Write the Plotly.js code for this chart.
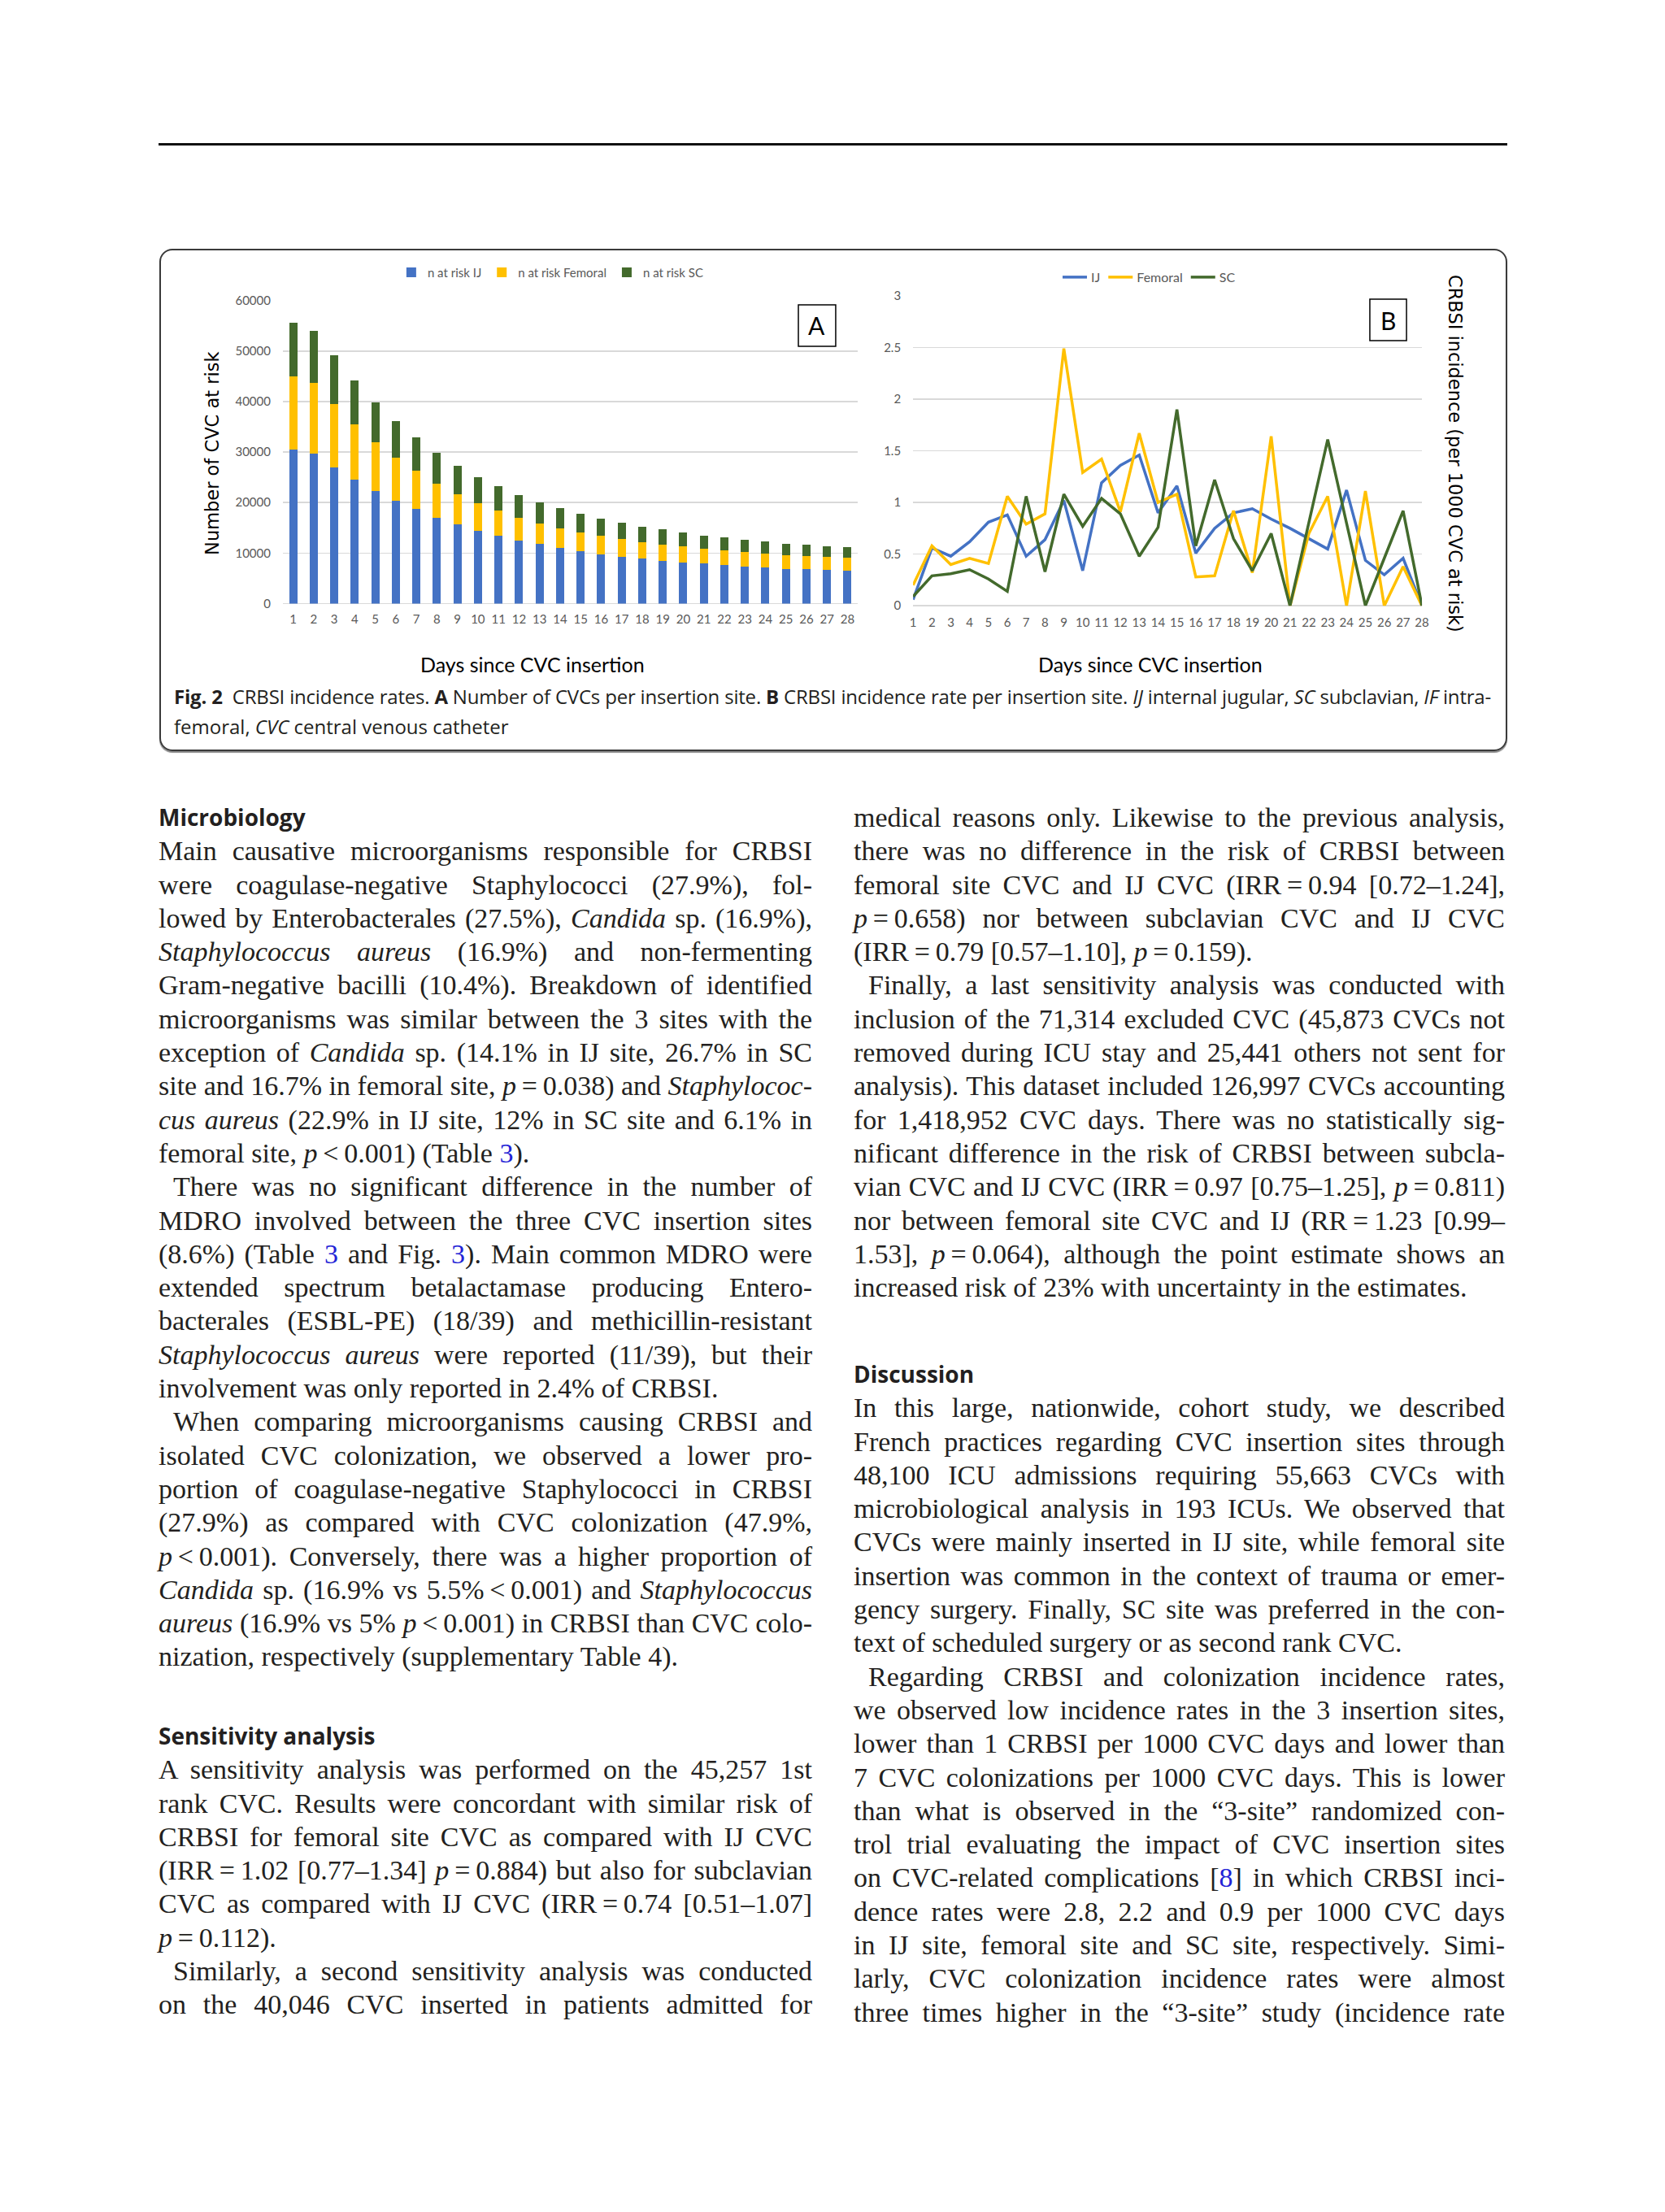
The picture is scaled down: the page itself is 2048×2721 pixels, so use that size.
<!DOCTYPE html>
<html>
<head>
<meta charset="utf-8">
<script src="https://cdn.plot.ly/plotly-3.0.1.min.js"></script>
<style>
  html, body { margin: 0; padding: 0; background: #fff; }
  body { width: 2048px; height: 2721px; position: relative; overflow: hidden; color: #231f20; }
  .rule { position: absolute; left: 195px; top: 176px; width: 1659px; height: 3px; background: #111; }
  .figbox { position: absolute; left: 196px; top: 306px; width: 1654px; height: 614px;
            border: 2px solid #3a3a3a; border-radius: 16px; box-shadow: 0 2px 1px #888; }
  #chart { position: absolute; left: 196px; top: 306px; width: 1652px; height: 530px; }
  .caption { position: absolute; left: 214px; top: 838px; width: 1620px;
             font-family: "Open Sans", "Noto Sans", sans-serif; font-size: 24px; line-height: 37px; }
  .col { position: absolute; font-family: "Liberation Serif", "DejaVu Serif", serif;
         font-size: 34px; line-height: 41.3px; }
  .ln { white-space: nowrap; overflow: visible; }
  .ind { padding-left: 18px; }
  h3 { margin: 0; font-family: "Open Sans", "Noto Sans", sans-serif; font-weight: 700;
       font-size: 28px; line-height: 41.3px; }
  .ref { color: #2323d6; }
</style>
</head>
<body>
<div class="rule"></div>
<div class="figbox"></div>
<div id="chart"></div>

<div class="caption">
  <div class="ln j"><span><b>Fig. 2</b>&nbsp; CRBSI incidence rates. <b>A</b> Number of CVCs per insertion site. <b>B</b> CRBSI incidence rate per insertion site. <i>IJ</i> internal jugular, <i>SC</i> subclavian, <i>IF</i> intra-</span></div>
  <div class="ln"><span>femoral, <i>CVC</i> central venous catheter</span></div>
</div>

<div class="col" style="left:195px; top:985px; width:804px;">
  <h3>Microbiology</h3>
  <div class="ln j"><span>Main causative microorganisms responsible for CRBSI</span></div>
  <div class="ln j"><span>were coagulase-negative Staphylococci (27.9%), fol-</span></div>
  <div class="ln j"><span>lowed by Enterobacterales (27.5%), <i>Candida</i> sp. (16.9%),</span></div>
  <div class="ln j"><span><i>Staphylococcus aureus</i> (16.9%) and non-fermenting</span></div>
  <div class="ln j"><span>Gram-negative bacilli (10.4%). Breakdown of identified</span></div>
  <div class="ln j"><span>microorganisms was similar between the 3 sites with the</span></div>
  <div class="ln j"><span>exception of <i>Candida</i> sp. (14.1% in IJ site, 26.7% in SC</span></div>
  <div class="ln j"><span>site and 16.7% in femoral site, <i>p</i>&thinsp;=&thinsp;0.038) and <i>Staphylococ-</i></span></div>
  <div class="ln j"><span><i>cus aureus</i> (22.9% in IJ site, 12% in SC site and 6.1% in</span></div>
  <div class="ln"><span>femoral site, <i>p</i>&thinsp;&lt;&thinsp;0.001) (Table <span class="ref">3</span>).</span></div>
  <div class="ln j ind"><span>There was no significant difference in the number of</span></div>
  <div class="ln j"><span>MDRO involved between the three CVC insertion sites</span></div>
  <div class="ln j"><span>(8.6%) (Table <span class="ref">3</span> and Fig. <span class="ref">3</span>). Main common MDRO were</span></div>
  <div class="ln j"><span>extended spectrum betalactamase producing Entero-</span></div>
  <div class="ln j"><span>bacterales (ESBL-PE) (18/39) and methicillin-resistant</span></div>
  <div class="ln j"><span><i>Staphylococcus aureus</i> were reported (11/39), but their</span></div>
  <div class="ln"><span>involvement was only reported in 2.4% of CRBSI.</span></div>
  <div class="ln j ind"><span>When comparing microorganisms causing CRBSI and</span></div>
  <div class="ln j"><span>isolated CVC colonization, we observed a lower pro-</span></div>
  <div class="ln j"><span>portion of coagulase-negative Staphylococci in CRBSI</span></div>
  <div class="ln j"><span>(27.9%) as compared with CVC colonization (47.9%,</span></div>
  <div class="ln j"><span><i>p</i>&thinsp;&lt;&thinsp;0.001). Conversely, there was a higher proportion of</span></div>
  <div class="ln j"><span><i>Candida</i> sp. (16.9% vs 5.5%&thinsp;&lt;&thinsp;0.001) and <i>Staphylococcus</i></span></div>
  <div class="ln j"><span><i>aureus</i> (16.9% vs 5% <i>p</i>&thinsp;&lt;&thinsp;0.001) in CRBSI than CVC colo-</span></div>
  <div class="ln"><span>nization, respectively (supplementary Table 4).</span></div>
</div>

<div class="col" style="left:195px; top:2115px; width:804px;">
  <h3>Sensitivity analysis</h3>
  <div class="ln j"><span>A sensitivity analysis was performed on the 45,257 1st</span></div>
  <div class="ln j"><span>rank CVC. Results were concordant with similar risk of</span></div>
  <div class="ln j"><span>CRBSI for femoral site CVC as compared with IJ CVC</span></div>
  <div class="ln j"><span>(IRR&thinsp;=&thinsp;1.02 [0.77–1.34] <i>p</i>&thinsp;=&thinsp;0.884) but also for subclavian</span></div>
  <div class="ln j"><span>CVC as compared with IJ CVC (IRR&thinsp;=&thinsp;0.74 [0.51–1.07]</span></div>
  <div class="ln"><span><i>p</i>&thinsp;=&thinsp;0.112).</span></div>
  <div class="ln j ind"><span>Similarly, a second sensitivity analysis was conducted</span></div>
  <div class="ln j"><span>on the 40,046 CVC inserted in patients admitted for</span></div>
</div>

<div class="col" style="left:1050px; top:985px; width:801px;">
  <div class="ln j"><span>medical reasons only. Likewise to the previous analysis,</span></div>
  <div class="ln j"><span>there was no difference in the risk of CRBSI between</span></div>
  <div class="ln j"><span>femoral site CVC and IJ CVC (IRR&thinsp;=&thinsp;0.94 [0.72–1.24],</span></div>
  <div class="ln j"><span><i>p</i>&thinsp;=&thinsp;0.658) nor between subclavian CVC and IJ CVC</span></div>
  <div class="ln"><span>(IRR&thinsp;=&thinsp;0.79 [0.57–1.10], <i>p</i>&thinsp;=&thinsp;0.159).</span></div>
  <div class="ln j ind"><span>Finally, a last sensitivity analysis was conducted with</span></div>
  <div class="ln j"><span>inclusion of the 71,314 excluded CVC (45,873 CVCs not</span></div>
  <div class="ln j"><span>removed during ICU stay and 25,441 others not sent for</span></div>
  <div class="ln j"><span>analysis). This dataset included 126,997 CVCs accounting</span></div>
  <div class="ln j"><span>for 1,418,952 CVC days. There was no statistically sig-</span></div>
  <div class="ln j"><span>nificant difference in the risk of CRBSI between subcla-</span></div>
  <div class="ln j"><span>vian CVC and IJ CVC (IRR&thinsp;=&thinsp;0.97 [0.75–1.25], <i>p</i>&thinsp;=&thinsp;0.811)</span></div>
  <div class="ln j"><span>nor between femoral site CVC and IJ (RR&thinsp;=&thinsp;1.23 [0.99–</span></div>
  <div class="ln j"><span>1.53], <i>p</i>&thinsp;=&thinsp;0.064), although the point estimate shows an</span></div>
  <div class="ln"><span>increased risk of 23% with uncertainty in the estimates.</span></div>
</div>

<div class="col" style="left:1050px; top:1670px; width:801px;">
  <h3>Discussion</h3>
  <div class="ln j"><span>In this large, nationwide, cohort study, we described</span></div>
  <div class="ln j"><span>French practices regarding CVC insertion sites through</span></div>
  <div class="ln j"><span>48,100 ICU admissions requiring 55,663 CVCs with</span></div>
  <div class="ln j"><span>microbiological analysis in 193 ICUs. We observed that</span></div>
  <div class="ln j"><span>CVCs were mainly inserted in IJ site, while femoral site</span></div>
  <div class="ln j"><span>insertion was common in the context of trauma or emer-</span></div>
  <div class="ln j"><span>gency surgery. Finally, SC site was preferred in the con-</span></div>
  <div class="ln"><span>text of scheduled surgery or as second rank CVC.</span></div>
  <div class="ln j ind"><span>Regarding CRBSI and colonization incidence rates,</span></div>
  <div class="ln j"><span>we observed low incidence rates in the 3 insertion sites,</span></div>
  <div class="ln j"><span>lower than 1 CRBSI per 1000 CVC days and lower than</span></div>
  <div class="ln j"><span>7 CVC colonizations per 1000 CVC days. This is lower</span></div>
  <div class="ln j"><span>than what is observed in the “3-site” randomized con-</span></div>
  <div class="ln j"><span>trol trial evaluating the impact of CVC insertion sites</span></div>
  <div class="ln j"><span>on CVC-related complications [<span class="ref">8</span>] in which CRBSI inci-</span></div>
  <div class="ln j"><span>dence rates were 2.8, 2.2 and 0.9 per 1000 CVC days</span></div>
  <div class="ln j"><span>in IJ site, femoral site and SC site, respectively. Simi-</span></div>
  <div class="ln j"><span>larly, CVC colonization incidence rates were almost</span></div>
  <div class="ln j"><span>three times higher in the “3-site” study (incidence rate</span></div>
</div>

<script>
// jours depuis l'insertion
const days = ['1','2','3','4','5','6','7','8','9','10','11','12','13','14',
              '15','16','17','18','19','20','21','22','23','24','25','26','27','28'];

// A : nombre de CVC à risque par site
const atRiskIJ      = [30500, 29750, 27000, 24500, 22300, 20400, 18700, 17050, 15700, 14450, 13450, 12500, 11750, 11000,
                       10350, 9800, 9300, 8860, 8500, 8200, 7900, 7600, 7300, 7100, 6900, 6760, 6600, 6480];
const atRiskFemoral = [14500, 13900, 12450, 10950, 9650, 8500, 7600, 6750, 6000, 5450, 4950, 4500, 4150, 3950,
                       3720, 3600, 3450, 3270, 3200, 3100, 2960, 2870, 2850, 2800, 2740, 2710, 2700, 2550];
const atRiskSC      = [10600, 10350, 9650, 8700, 7850, 7200, 6600, 6100, 5550, 5200, 4800, 4550, 4200, 3950,
                       3730, 3400, 3200, 3110, 3000, 2770, 2640, 2600, 2480, 2400, 2260, 2230, 2100, 2170];

// B : incidence CRBSI (pour 1000 CVC à risque)
const incIJ      = [0.06, 0.56, 0.48, 0.62, 0.81, 0.88, 0.48, 0.64, 1.02, 0.34, 1.19, 1.36, 1.46, 0.90,
                    1.16, 0.51, 0.75, 0.90, 0.94, 0.84, 0.75, 0.65, 0.55, 1.12, 0.44, 0.30, 0.46, 0];
const incFemoral = [0.20, 0.58, 0.40, 0.46, 0.41, 1.06, 0.79, 0.89, 2.49, 1.29, 1.42, 0.91, 1.67, 1.00,
                    1.08, 0.28, 0.29, 0.92, 0.32, 1.64, 0, 0.70, 1.06, 0, 1.11, 0, 0.38, 0];
const incSC      = [0.09, 0.29, 0.31, 0.35, 0.26, 0.14, 1.06, 0.33, 1.08, 0.77, 1.04, 0.89, 0.48, 0.76,
                    1.90, 0.58, 1.22, 0.65, 0.34, 0.70, 0, 0.80, 1.61, 0.80, 0, 0.46, 0.92, 0];

const colIJ = '#4472C4', colFem = '#FFC000', colSC = '#436A2C';
const tickFont = { family: 'Lato, "Open Sans", sans-serif', size: 15, color: '#595959' };

const traces = [
  { type: 'bar', x: days, y: atRiskIJ, name: 'n at risk IJ', marker: { color: colIJ }, xaxis: 'x', yaxis: 'y' },
  { type: 'bar', x: days, y: atRiskFemoral, name: 'n at risk Femoral', marker: { color: colFem }, xaxis: 'x', yaxis: 'y' },
  { type: 'bar', x: days, y: atRiskSC, name: 'n at risk SC', marker: { color: colSC }, xaxis: 'x', yaxis: 'y' },
  { type: 'scatter', mode: 'lines', x: days, y: incIJ, name: 'IJ', line: { color: colIJ, width: 3.5 },
    xaxis: 'x2', yaxis: 'y2', legend: 'legend2' },
  { type: 'scatter', mode: 'lines', x: days, y: incFemoral, name: 'Femoral', line: { color: colFem, width: 3.5 },
    xaxis: 'x2', yaxis: 'y2', legend: 'legend2' },
  { type: 'scatter', mode: 'lines', x: days, y: incSC, name: 'SC', line: { color: colSC, width: 3.5 },
    xaxis: 'x2', yaxis: 'y2', legend: 'legend2' }
];

const titleFont = { family: '"DejaVu Sans", sans-serif', size: 22.5, color: '#000' };
const xTitleFont = { family: 'Lato, "Open Sans", sans-serif', size: 25, color: '#000' };

function note(text, x, y, font, angle) {
  return { text: text, xref: 'paper', yref: 'paper', x: x, y: y, xanchor: 'center', yanchor: 'middle',
           textangle: angle || 0, showarrow: false, font: font };
}

const layout = {
  width: 1652, height: 530,
  margin: { l: 0, r: 0, t: 0, b: 0 },
  paper_bgcolor: 'rgba(0,0,0,0)', plot_bgcolor: 'rgba(0,0,0,0)',
  barmode: 'stack', bargap: 0.6,
  font: tickFont,
  xaxis: { domain: [0.0920, 0.5200], type: 'category', tickfont: tickFont, showgrid: false,
           showline: false, ticks: '', ticklabelstandoff: 8, anchor: 'y' },
  yaxis: { domain: [0.1764, 0.8800], range: [0, 60000], dtick: 10000, tickformat: 'd', tickfont: tickFont,
           gridcolor: '#D9D9D9', gridwidth: 1.5, zeroline: true, zerolinecolor: '#D9D9D9', zerolinewidth: 1.5,
           showline: false, ticks: '', ticklabelstandoff: 14, anchor: 'x' },
  xaxis2: { domain: [0.5612, 0.9401], type: 'category', tickfont: tickFont, showgrid: false,
            showline: false, ticks: '', ticklabelstandoff: 10, anchor: 'y2' },
  yaxis2: { domain: [0.1713, 0.8906], range: [0, 3], dtick: 0.5, tickfont: tickFont,
            gridcolor: '#D9D9D9', gridwidth: 1.5, zeroline: true, zerolinecolor: '#D9D9D9', zerolinewidth: 1.5,
            showline: false, ticks: '', ticklabelstandoff: 14, anchor: 'x2' },
  legend: { orientation: 'h', x: 0.292, xanchor: 'center', y: 0.945, yanchor: 'middle',
            font: { family: 'Lato, sans-serif', size: 15, color: '#595959' }, traceorder: 'normal' },
  legend2: { orientation: 'h', x: 0.737, xanchor: 'center', y: 0.934, yanchor: 'middle',
             font: { family: 'Lato, sans-serif', size: 16, color: '#595959' }, traceorder: 'normal' },
  shapes: [
    { type: 'rect', xref: 'paper', yref: 'paper', x0: 0.4758, x1: 0.5036, y0: 0.7736, y1: 0.8698,
      line: { color: '#000', width: 1.5 } },
    { type: 'rect', xref: 'paper', yref: 'paper', x0: 0.9013, x1: 0.9286, y0: 0.7868, y1: 0.8830,
      line: { color: '#000', width: 1.5 } }
  ],
  annotations: [
    note('A', 0.4897, 0.8217, { family: 'Lato, sans-serif', size: 30, color: '#000' }),
    note('B', 0.9150, 0.8349, { family: 'Lato, sans-serif', size: 30, color: '#000' }),
    note('Number of CVC at risk', 0.0393, 0.5245, titleFont, -90),
    note('CRBSI incidence (per 1000 CVC at risk)', 0.9649, 0.5245, titleFont, 90),
    note('Days since CVC insertion', 0.2778, 0.0358, xTitleFont),
    note('Days since CVC insertion', 0.7379, 0.0358, xTitleFont)
  ]
};

Plotly.newPlot('chart', traces, layout, { staticPlot: true, displayModeBar: false });

// justification ligne par ligne
document.fonts.ready.then(function () {
  document.querySelectorAll('.ln').forEach(function (ln) {
    const span = ln.firstElementChild;
    const avail = ln.clientWidth - (parseFloat(getComputedStyle(ln).paddingLeft) || 0);
    const w = span.getBoundingClientRect().width;
    const txt = span.textContent.trim();
    const spaces = (txt.match(/ /g) || []).length;
    if (w > avail) {
      span.style.letterSpacing = ((avail - w) / txt.length) + 'px';
    } else if (ln.classList.contains('j') && spaces) {
      span.style.wordSpacing = ((avail - w) / spaces) + 'px';
    }
  });
});
</script>
</body>
</html>
